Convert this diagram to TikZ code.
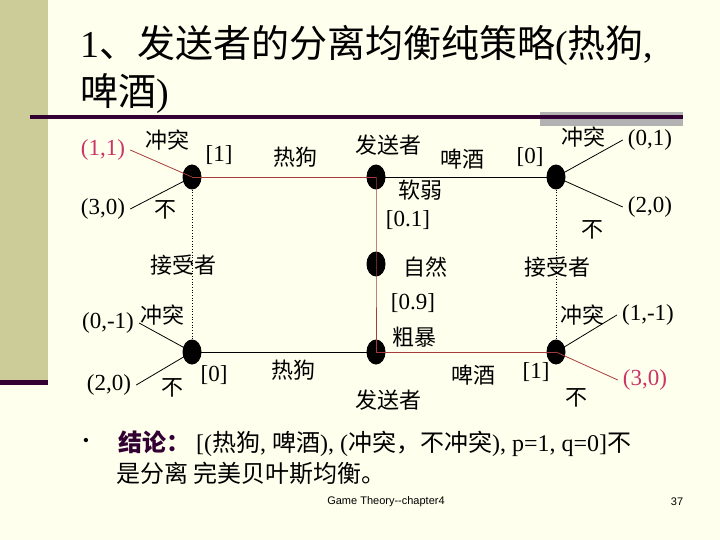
\documentclass[tikz,border=0pt]{standalone}
\usepackage{fontspec}
\setmainfont{Liberation Serif}
\newfontfamily\cjk{Noto Sans CJK SC}
\newfontfamily\footfont{Liberation Sans}
\usepackage{tikz}
\usetikzlibrary{shapes.geometric}
\definecolor{slidecream}{HTML}{FFFFEE}
\definecolor{slidekhaki}{HTML}{CCCC99}
\definecolor{slidepurple}{HTML}{330033}
\definecolor{slidegray}{HTML}{B2B2B2}
\definecolor{treered}{HTML}{A83C3C}
\definecolor{payoffred}{HTML}{CC3366}
\newcommand{\zh}[1]{{\cjk #1}}

\begin{document}
\begin{tikzpicture}[x=1pt,y=-1pt,
  decision/.style={ellipse,fill=black,minimum width=19pt,minimum height=25pt,inner sep=0pt},
  zhlabel/.style={inner sep=0pt,font=\cjk\fontsize{22}{26}\selectfont},
  numlabel/.style={inner sep=0pt,font=\fontsize{23}{27}\selectfont},
  payoff/.style={inner sep=5pt,font=\fontsize{23}{27}\selectfont},
  titletext/.style={inner sep=0pt,font=\fontsize{38}{45}\selectfont},
  bodytext/.style={inner sep=0pt,font=\fontsize{24}{28}\selectfont},
  foottext/.style={inner sep=0pt,font=\footfont\fontsize{11}{13}\selectfont},
  redbranch/.style={draw=treered,line width=0.8pt},
  blackbranch/.style={draw=black,line width=0.8pt},
  infoset/.style={draw=black,line width=0.7pt,dotted}
]
\path[use as bounding box] (0,0) rectangle (720,540);

% Slide background
\fill[slidecream] (0,0) rectangle (720,540);
\fill[slidekhaki] (0,0) rectangle (48,383);
\fill[slidepurple] (0,380) rectangle (48,385);
\fill[slidegray] (540,112) rectangle (683,126);
\fill[slidepurple] (30,115) rectangle (683,119);

% Title
\node[titletext,anchor=base west] (titleone) at (80,58) {1\zh{、发送者的分离均衡纯策略}(\zh{热狗},};
\node[titletext,anchor=base west] (titletwo) at (80,106) {\zh{啤酒})};

% Decision nodes
\node[decision] (hotup) at (192,177) {};
\node[decision] (weak) at (376,177) {};
\node[decision] (beerup) at (556,177) {};
\node[decision] (nature) at (376,264) {};
\node[decision] (tough) at (376,352) {};
\node[decision] (hotdown) at (192,352) {};
\node[decision] (beerdown) at (556,352) {};

% Payoffs
\node[payoff,text=payoffred] (payhotup) at (103,150) {(1,1)};
\node[payoff] (payhotupno) at (103,209) {(3,0)};
\node[payoff] (paybeerup) at (650,140) {(0,1)};
\node[payoff] (paybeerupno) at (650,207) {(2,0)};
\node[payoff] (payhotdown) at (108,323) {(0,-1)};
\node[payoff] (payhotdownno) at (109,385) {(2,0)};
\node[payoff] (paybeerdown) at (648,315) {(1,-1)};
\node[payoff,text=payoffred] (paybeerdownno) at (645,380) {(3,0)};

% Upper half labels
\node[zhlabel] (clashhu) at (167,140) {冲突};
\node[zhlabel] (nohu) at (165,210) {不};
\node[numlabel] (beliefhu) at (219,155) {[1]};
\node[zhlabel] (hotweak) at (295,157) {热狗};
\node[zhlabel] (senderup) at (388,145) {发送者};
\node[zhlabel] (beerweak) at (462,159) {啤酒};
\node[numlabel] (beliefbu) at (530,157) {[0]};
\node[zhlabel] (weaktype) at (420,190) {软弱};
\node[numlabel] (probweak) at (408,220) {[0.1]};
\node[zhlabel] (clashbu) at (583,137) {冲突};
\node[zhlabel] (nobu) at (592,230) {不};

% Middle labels
\node[zhlabel] (recvhot) at (183,265) {接受者};
\node[zhlabel] (naturename) at (425,267) {自然};
\node[zhlabel] (recvbeer) at (557,267) {接受者};

% Lower half labels
\node[numlabel] (probtough) at (413,303) {[0.9]};
\node[zhlabel] (toughtype) at (414,337) {粗暴};
\node[zhlabel] (clashhd) at (162,315) {冲突};
\node[zhlabel] (nohd) at (172,388) {不};
\node[numlabel] (beliefhd) at (214,375) {[0]};
\node[zhlabel] (hottough) at (293,370) {热狗};
\node[zhlabel] (senderdown) at (388,400) {发送者};
\node[zhlabel] (beertough) at (473,375) {啤酒};
\node[numlabel] (beliefbd) at (536,372) {[1]};
\node[zhlabel] (clashbd) at (582,315) {冲突};
\node[zhlabel] (nobd) at (576,398) {不};

% Sender and nature moves
\draw[redbranch] (weak.center) -- (hotup.center);
\draw[blackbranch] (weak.center) -- (beerup.center);
\draw[redbranch] (weak.center) -- (nature.center) -- (tough.center);
\draw[blackbranch] (tough.center) -- (hotdown.center);
\draw[redbranch] (tough.center) -- (beerdown.center);

% Receiver information sets
\draw[infoset] (hotup.south) -- (hotdown.north);
\draw[infoset] (beerup.south) -- (beerdown.north);

% Receiver moves
\draw[redbranch] (hotup.center) -- (payhotup.east);
\draw[blackbranch] (hotup.center) -- (payhotupno.east);
\draw[blackbranch] (beerup.center) -- (paybeerup.west);
\draw[blackbranch] (beerup.center) -- (paybeerupno.west);
\draw[blackbranch] (hotdown.center) -- (payhotdown.east);
\draw[blackbranch] (hotdown.center) -- (payhotdownno.east);
\draw[blackbranch] (beerdown.center) -- (paybeerdown.west);
\draw[redbranch] (beerdown.center) -- (paybeerdownno.west);

% Conclusion
\node[inner sep=0pt,font=\fontsize{18}{20}\selectfont] (bullet) at (86,442) {\textbullet};
\node[bodytext,anchor=base west] (conclone) at (118,451)
  {{\cjk\bfseries\color{slidepurple}结论：}\ [(\zh{热狗}, \zh{啤酒}), (\zh{冲突，不冲突}), p=1, q=0]\zh{不}};
\node[bodytext,anchor=base west] (concltwo) at (116,482) {\zh{是分离 完美贝叶斯均衡。}};

% Footer
\node[foottext] (footer) at (386,502) {Game Theory-{}-chapter4};
\node[foottext] (pagenum) at (677,502) {37};

\end{tikzpicture}
\end{document}
